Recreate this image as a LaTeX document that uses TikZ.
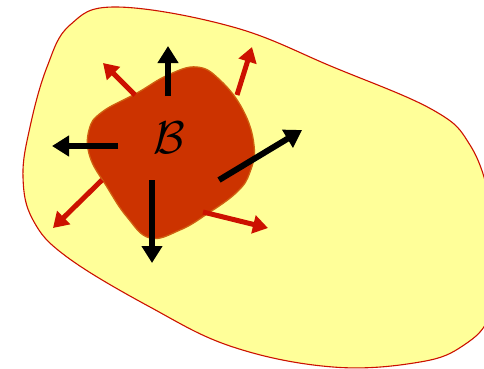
\documentclass[tikz,border=0pt]{standalone}
\usetikzlibrary{arrows.meta}
\definecolor{RegionFill}{HTML}{FFFF99}
\definecolor{RegionEdge}{HTML}{CC1100}
\definecolor{BodyFill}{HTML}{CC3300}
\definecolor{BodyEdge}{HTML}{D06010}
\definecolor{FluxRed}{HTML}{CC1100}
\tikzset{
  region/.style={fill=RegionFill, draw=RegionEdge, line width=1.1pt},
  body/.style={fill=BodyFill, draw=BodyEdge, line width=1.3pt},
  force/.style={-{Triangle[length=17pt,width=20pt]}, line width=6pt, draw=black},
  flux/.style={-{Triangle[length=15pt,width=18pt]}, line width=5pt, draw=FluxRed}
}
\begin{document}
\begin{tikzpicture}[x=1pt,y=-1pt]
  \useasboundingbox (0,0) rectangle (484,368);
  \clip (0,0) rectangle (484,368);
  % surrounding region
  \draw[region] plot[smooth cycle,tension=.65] coordinates {
    (117,7) (233,27) (333,67) (433,110) (470,145) (490,200) (497,260)
    (490,315) (464,345) (420,362) (333,367) (233,347) (150,307)
    (67,257) (33,220) (23,177) (30,127) (47,67) (70,25)};
  % the body
  \draw[body] plot[smooth cycle,tension=.7] coordinates {
    (197,67) (220,80) (243,110) (254,145) (250,172) (237,192)
    (207,214) (180,230) (150,238) (127,217) (107,187) (90,157)
    (89,130) (102,112) (137,93) (168,75)};
  \node[scale=4.6] (lbl) at (169,138) {$\mathcal{B}$};
  % flux arrows
  \draw[flux] (135,95) -- (103,63);
  \draw[flux] (237,95) -- (252,47);
  \draw[flux] (102,180) -- (53,228);
  \draw[flux] (203,212) -- (268,228);
  % force arrows
  \draw[force] (168,96) -- (168,46);
  \draw[force] (118,146) -- (52,146);
  \draw[force] (152,180) -- (152,263);
  \draw[force] (219,180) -- (302,130);
\end{tikzpicture}
\end{document}
